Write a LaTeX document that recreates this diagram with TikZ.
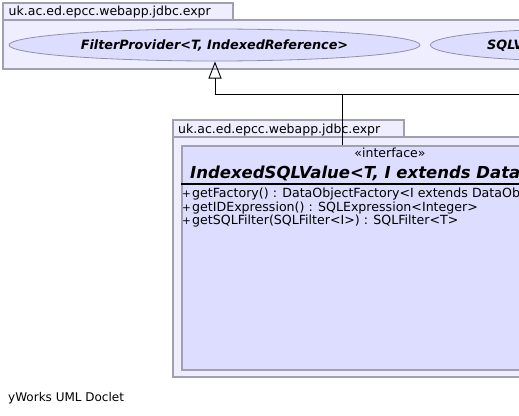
\documentclass[tikz,border=0pt]{standalone}
\usepackage{fontspec}
\setmainfont{DejaVu Sans}
\usetikzlibrary{arrows.meta,shapes.geometric}
\definecolor{pkgfill}{HTML}{EEEEFF}
\definecolor{pkgline}{HTML}{A0A0B0}
\definecolor{clsfill}{HTML}{DDDDFF}
\definecolor{ellline}{HTML}{9090A8}
\newcommand{\vplus}{{\fontsize{10.5}{12}\selectfont+}\kern1.2pt}
\tikzset{
  pkg/.style={draw=pkgline, fill=pkgfill, line width=1.2pt},
  cls/.style={draw=pkgline, fill=clsfill, line width=1.6pt},
  ell/.style={ellipse, draw=ellline, fill=clsfill, line width=0.8pt, inner sep=0pt},
  lbl/.style={inner sep=0pt, font=\fontsize{12.5}{14}\selectfont},
  mth/.style={inner sep=0pt, font=\fontsize{12.6}{14}\selectfont},
  elltext/.style={inner sep=0pt, font=\fontsize{12.8}{15}\selectfont\bfseries\itshape},
  nametext/.style={inner sep=0pt, font=\fontsize{16.5}{19}\selectfont\bfseries\itshape},
  conn/.style={draw=black, line width=0.9pt},
  inh/.style={-{Triangle[open, length=17pt, width=13pt, line width=0.9pt]}},
}
\begin{document}
\begin{tikzpicture}[x=1pt,y=-1pt]
\useasboundingbox (0,0) rectangle (519,415);
\clip (0,0) rectangle (519,415);
\fill[white] (0,0) rectangle (519,415);
% top package
\draw[pkg] (3,3) rectangle (233,20);
\draw[pkg] (3,20) rectangle (560,69);
\node[lbl, anchor=base west] (pk1) at (8.5,16) {uk.ac.ed.epcc.webapp.jdbc.expr};
\node[ell, minimum width=411pt, minimum height=32pt] (fp) at (214.5,45) {};
\node[elltext, anchor=base] (fpt) at (214.5,49.5) {FilterProvider<T, IndexedReference>};
\node[ell, minimum width=300pt, minimum height=32pt, anchor=west] (sv) at (430,45) {};
\node[elltext, anchor=base west] (svt) at (487,49.5) {SQLV};
% second package
\draw[pkg] (173,120) rectangle (404,137);
\draw[pkg] (173,137) rectangle (620,377);
\node[lbl, anchor=base west] (pk2) at (178,133) {uk.ac.ed.epcc.webapp.jdbc.expr};
\node[cls, minimum width=418pt, minimum height=224pt, anchor=north west, inner sep=0pt] (isv) at (181,145) {};
\node[lbl, anchor=base] (st) at (390,157.5) {«interface»};
\node[nametext, anchor=base west] (nm) at (190,178.8) {IndexedSQLValue<T, I extends DataObject>};
\draw[black, line width=1.8pt] (181,184) -- (600,184);
\node[mth, anchor=base west] (m1) at (182,197.5) {\vplus getFactory() : DataObjectFactory<I extends DataObject>};
\node[mth, anchor=base west] (m2) at (182,211) {\vplus getIDExpression() : SQLExpression<Integer>};
\node[mth, anchor=base west] (m3) at (182,224.8) {\vplus getSQLFilter(SQLFilter<I>) : SQLFilter<T>};
% connectors
\coordinate (j1) at (215,94);
\coordinate (j2) at (342,94);
\coordinate (rt) at (530,94);
\draw[conn] (rt) -- (j1);
\draw[conn, inh] (j1) -- (215,61.5);
\draw[conn] (isv.north -| j2) -- (j2);
% footer
\node[inner sep=0pt, anchor=base west, font=\fontsize{12}{14}\selectfont] (ft) at (8,401) {yWorks UML Doclet};
\end{tikzpicture}
\end{document}
